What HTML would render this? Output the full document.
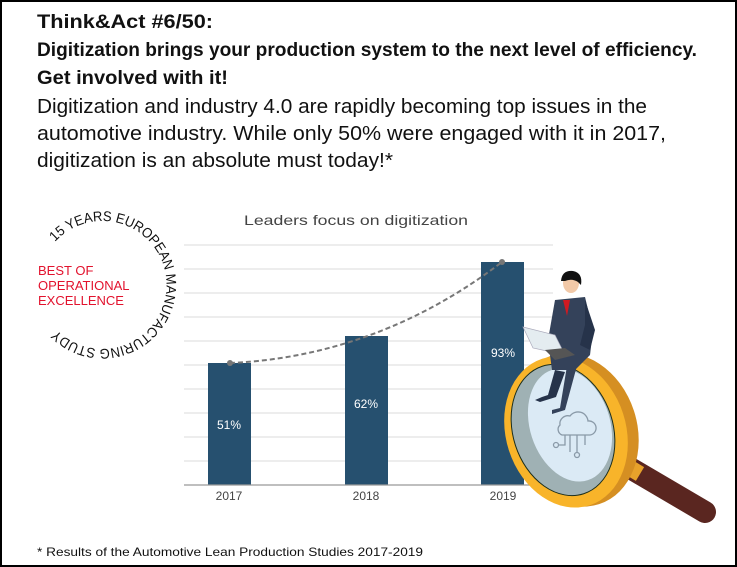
<!DOCTYPE html>
<html><head><meta charset="utf-8"><style>
html,body{margin:0;padding:0;background:#fff}
svg{display:block}
text{font-family:"Liberation Sans",sans-serif}
</style></head><body>
<svg width="737" height="567" viewBox="0 0 737 567" xmlns="http://www.w3.org/2000/svg">
<rect x="1" y="1" width="735" height="565" fill="#fff" stroke="#000" stroke-width="2"/>
<g fill="#111">
<text x="37" y="28" font-size="19" font-weight="bold" textLength="176" lengthAdjust="spacingAndGlyphs">Think&amp;Act #6/50:</text>
<text x="37" y="56" font-size="19" font-weight="bold" textLength="660" lengthAdjust="spacingAndGlyphs">Digitization brings your production system to the next level of efficiency.</text>
<text x="37" y="84" font-size="19" font-weight="bold" textLength="191" lengthAdjust="spacingAndGlyphs">Get involved with it!</text>
<text x="37" y="113" font-size="20" textLength="610" lengthAdjust="spacingAndGlyphs">Digitization and industry 4.0 are rapidly becoming top issues in the</text>
<text x="37" y="140" font-size="20" textLength="629" lengthAdjust="spacingAndGlyphs">automotive industry. While only 50% were engaged with it in 2017,</text>
<text x="37" y="167" font-size="20" textLength="356" lengthAdjust="spacingAndGlyphs">digitization is an absolute must today!*</text>
<text x="37" y="556" font-size="12" textLength="386" lengthAdjust="spacingAndGlyphs">* Results of the Automotive Lean Production Studies 2017-2019</text>
</g>
<!-- chart -->
<text x="356" y="225" font-size="14" fill="#444" text-anchor="middle" textLength="224" lengthAdjust="spacingAndGlyphs">Leaders focus on digitization</text>
<g stroke="#e2e2e2" stroke-width="1.2">
<line x1="184" y1="245" x2="553" y2="245"/><line x1="184" y1="269" x2="553" y2="269"/>
<line x1="184" y1="293" x2="553" y2="293"/><line x1="184" y1="317" x2="553" y2="317"/>
<line x1="184" y1="341" x2="553" y2="341"/><line x1="184" y1="365" x2="553" y2="365"/>
<line x1="184" y1="389" x2="553" y2="389"/><line x1="184" y1="413" x2="553" y2="413"/>
<line x1="184" y1="437" x2="553" y2="437"/><line x1="184" y1="461" x2="553" y2="461"/>
</g>
<g fill="#26506f">
<rect x="208" y="363" width="43" height="122"/>
<rect x="345" y="336" width="43" height="149"/>
<rect x="481" y="262" width="43" height="223"/>
</g>
<line x1="184" y1="485" x2="553" y2="485" stroke="#999" stroke-width="1.2"/>
<path d="M230 363 C 300 360, 400 340, 502 262" fill="none" stroke="#777" stroke-width="2" stroke-dasharray="5,3"/>
<circle cx="230" cy="363" r="3" fill="#777"/><circle cx="502" cy="262" r="3" fill="#777"/>
<g fill="#fff" font-size="12" text-anchor="middle">
<text x="229" y="429">51%</text><text x="366" y="408">62%</text><text x="503" y="357">93%</text>
</g>
<g fill="#444" font-size="12" text-anchor="middle">
<text x="229" y="500">2017</text><text x="366" y="500">2018</text><text x="503" y="500">2019</text>
</g>
<!-- badge -->
<defs><path id="arc2" d="M 55 242 A 64 64 0 1 1 58 331"/></defs>
<text font-size="14" fill="#111"><textPath href="#arc2" textLength="305" lengthAdjust="spacingAndGlyphs">15 YEARS EUROPEAN MANUFACTURING STUDY</textPath></text>
<g fill="#e2122d" font-size="13">
<text x="38" y="275">BEST OF</text>
<text x="38" y="290">OPERATIONAL</text>
<text x="38" y="305">EXCELLENCE</text>
</g>
<!-- magnifier -->
<line x1="625" y1="465" x2="705" y2="512" stroke="#5a2620" stroke-width="22" stroke-linecap="round"/>
<line x1="620" y1="462" x2="640" y2="474" stroke="#e7a22b" stroke-width="16"/>
<ellipse cx="575" cy="430" rx="62" ry="78" fill="#d58f22" transform="rotate(-18 575 430)"/>
<ellipse cx="566" cy="432" rx="60" ry="77" fill="#f8b42a" transform="rotate(-18 566 432)"/>
<ellipse cx="563" cy="430" rx="50" ry="67" fill="#9fb1b4" stroke="#1c2e1c" stroke-width="1" transform="rotate(-18 563 430)"/>
<ellipse cx="570" cy="425" rx="40" ry="58" fill="#dbeaf5" transform="rotate(-18 570 425)"/>
<g fill="none" stroke="#8a9aa8" stroke-width="1.3">
<path d="M560 425 a8 8 0 0 1 10-9 a10 10 0 0 1 18 5 a7 7 0 0 1 2 14 h-28 a6 6 0 0 1 -2-10z"/>
<path d="M570 435 v17 M577 435 v17 M585 435 v10 M565 435 v10 h-7"/>
<circle cx="556" cy="445" r="2.5"/><circle cx="577" cy="455" r="2.5"/>
</g>
<!-- man -->
<path d="M555 370 L548 395 L542 397 L535 400 L540 402 L556 397 L565 372z" fill="#26334a"/>
<path d="M568 360 L560 408 L552 410 L552 414 L565 410 L578 362z" fill="#34425a"/>
<path d="M555 300 L585 297 L593 330 L590 355 L575 370 L552 370 L548 340z" fill="#34425a"/>
<path d="M563 300 L570 300 L567 316z" fill="#d01a22"/>
<path d="M585 300 L595 330 L590 350 L580 345 L585 325z" fill="#26334a"/>
<ellipse cx="571" cy="283" rx="8" ry="10" fill="#f2c9a8"/>
<path d="M561 281 Q562 270 573 271 Q583 273 581 285 L578 282 Q572 278 565 281z" fill="#111"/>
<path d="M523 327 L555 335 L565 355 L533 348z" fill="#e4ecf0" stroke="#aab" stroke-width="0.7"/>
<path d="M545 350 L565 348 L575 355 L555 360z" fill="#555"/>
</svg>
</body></html>
